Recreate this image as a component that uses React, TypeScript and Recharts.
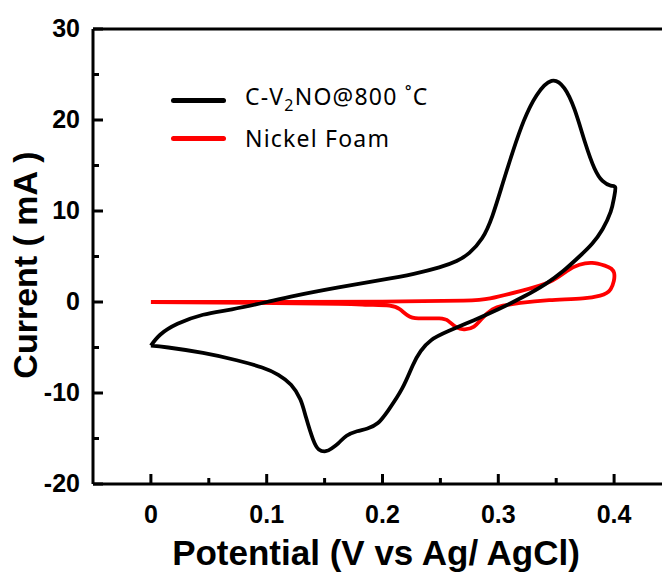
import React from "react";
import { LineChart, Line, XAxis, YAxis, ReferenceLine, Label } from "recharts";

// CV loop of C-V2NO@800 °C, potential (V) / current (mA), in scan order
const blackPotential = [
  0, 0.008, 0.023, 0.045, 0.07, 0.1, 0.125, 0.162, 0.198, 0.227, 0.249, 0.264,
  0.275, 0.286, 0.295, 0.304, 0.313, 0.322, 0.333, 0.346, 0.357, 0.366, 0.375,
  0.383, 0.39, 0.397, 0.401, 0.4, 0.397, 0.39, 0.381, 0.37, 0.356, 0.341, 0.322,
  0.3, 0.279, 0.257, 0.242, 0.233, 0.226, 0.217, 0.205, 0.196, 0.187, 0.178,
  0.169, 0.162, 0.156, 0.151, 0.145, 0.14, 0.134, 0.129, 0.121, 0.11, 0.096,
  0.074, 0.045, 0.015, 0,
];
const blackCurrent = [
  -4.8, -3.6, -2.4, -1.4, -0.8, 0, 0.7, 1.6, 2.4, 3.1, 3.8, 4.5, 5.4, 7.0, 9.5,
  13.1, 16.7, 19.9, 22.7, 24.3, 23.5, 21.1, 17.5, 14.7, 13.3, 12.8, 12.6, 11.5,
  9.9, 8.0, 6.4, 5.0, 3.4, 2.0, 0.6, -0.8, -2.0, -3.2, -4.2, -5.4, -7.0, -9.5,
  -11.9, -13.3, -13.9, -14.2, -14.7, -15.5, -16.1, -16.4, -16.2, -15.1, -12.7,
  -10.7, -9.1, -8.0, -7.2, -6.4, -5.6, -5.0, -4.8,
];

// CV loop of bare nickel foam
const redPotential = [
  0, 0.1, 0.2, 0.27, 0.293, 0.319, 0.344, 0.359, 0.37, 0.381, 0.392, 0.4, 0.397,
  0.388, 0.373, 0.344, 0.319, 0.304, 0.295, 0.286, 0.279, 0.271, 0.264, 0.257,
  0.249, 0.231, 0.222, 0.215, 0.206, 0.187, 0.162, 0.088, 0,
];
const redCurrent = [
  0, 0, 0.05, 0.15, 0.4, 1.2, 2.2, 3.4, 4.1, 4.3, 4.0, 3.2, 1.4, 0.7, 0.4, 0.2,
  -0.1, -0.4, -0.8, -1.8, -2.7, -3.0, -2.8, -2.1, -1.8, -1.8, -1.5, -0.8, -0.4,
  -0.3, -0.2, -0.1, 0,
];

const seriesNames = ["C-V₂NO@800 ˚C", "Nickel Foam"];
const seriesColors = ["#000000", "#ff0000"];

const xTicks = [0, 0.05, 0.1, 0.15, 0.2, 0.25, 0.3, 0.35, 0.4, 0.45];
const yTicks = [-20, -15, -10, -5, 0, 5, 10, 15, 20, 25, 30];

const toPoints = (xs: number[], ys: number[]) =>
  xs.map((x, i) => ({ x, y: ys[i] }));

const blackData = toPoints(blackPotential, blackCurrent);
const redData = toPoints(redPotential, redCurrent);

const tickFont = {
  fontFamily: "'Liberation Sans', Arial, sans-serif",
  fontWeight: 700,
  fontSize: 25,
  fill: "#000",
};

function XTick(props: any) {
  const { x, y, payload } = props;
  const v = payload.value as number;
  const major = Math.abs(v * 10 - Math.round(v * 10)) < 1e-6;
  return (
    <g>
      <line x1={x} x2={x} y1={y} y2={y - (major ? 10 : 6)} stroke="#000" strokeWidth={3} />
      {major && (
        <text x={x} y={y + 39} textAnchor="middle" {...tickFont}>
          {String(Math.round(v * 10) / 10)}
        </text>
      )}
    </g>
  );
}

function YTick(props: any) {
  const { x, y, payload } = props;
  const v = payload.value as number;
  const major = v % 10 === 0;
  return (
    <g>
      <line x1={x} x2={x + (major ? 10 : 6)} y1={y} y2={y} stroke="#000" strokeWidth={3} />
      {major && (
        <text x={x - 13} y={y + 8} textAnchor="end" {...tickFont}>
          {String(v)}
        </text>
      )}
    </g>
  );
}

function LegendName({ name }: { name: string }) {
  const parts = name.split("₂");
  if (parts.length < 2) return <>{name}</>;
  return (
    <>
      {parts[0]}
      <sub style={{ fontSize: 16, verticalAlign: -6 }}>2</sub>
      {parts[1]}
    </>
  );
}

export default function App() {
  return (
    <div
      style={{
        position: "absolute",
        left: 0,
        top: 0,
        width: 662,
        height: 574,
        overflow: "hidden",
        background: "#fff",
      }}
    >
      <LineChart
        width={680}
        height={574}
        margin={{ top: 29, right: 8, bottom: 0, left: 0 }}
      >
        <XAxis
          type="number"
          dataKey="x"
          domain={[-0.05, 0.45]}
          ticks={xTicks}
          allowDataOverflow
          height={90}
          tickSize={0}
          tickMargin={0}
          tick={<XTick />}
          axisLine={{ stroke: "#000", strokeWidth: 3 }}
        >
          <Label
            content={() => (
              <text
                x={376}
                y={565}
                textAnchor="middle"
                fontFamily="'Liberation Sans', Arial, sans-serif"
                fontWeight={700}
                fontSize={35}
                fill="#000"
              >
                Potential (V vs Ag/ AgCl)
              </text>
            )}
          />
        </XAxis>
        <YAxis
          type="number"
          domain={[-20, 30]}
          ticks={yTicks}
          allowDataOverflow
          width={93}
          tickSize={0}
          tickMargin={0}
          tick={<YTick />}
          axisLine={{ stroke: "#000", strokeWidth: 3 }}
        >
          <Label
            content={() => (
              <text
                transform="translate(37,265) rotate(-90)"
                textAnchor="middle"
                fontFamily="'Liberation Sans', Arial, sans-serif"
                fontWeight={700}
                fontSize={34}
                fill="#000"
              >
                Current ( mA )
              </text>
            )}
          />
        </YAxis>
        <ReferenceLine y={30} stroke="#000" strokeWidth={3} />
        <ReferenceLine x={0.45} stroke="#000" strokeWidth={3} />
        <Line
          data={redData}
          dataKey="y"
          name={seriesNames[1]}
          type="natural"
          stroke={seriesColors[1]}
          strokeWidth={3.8}
          dot={false}
          isAnimationActive={false}
        />
        <Line
          data={blackData}
          dataKey="y"
          name={seriesNames[0]}
          type="natural"
          stroke={seriesColors[0]}
          strokeWidth={3.8}
          dot={false}
          isAnimationActive={false}
        />
      </LineChart>
      <div
        style={{
          position: "absolute",
          left: 171,
          top: 81,
          fontFamily: "'Noto Sans', sans-serif",
          fontSize: 23,
          letterSpacing: 1.2,
          color: "#000",
        }}
      >
        {seriesNames.map((n, i) => (
          <div
            key={n}
            style={{ display: "flex", alignItems: "center", height: 38, whiteSpace: "nowrap" }}
          >
            <span
              style={{
                display: "inline-block",
                width: 55,
                height: 5,
                borderRadius: 3,
                background: seriesColors[i],
              }}
            />
            <span style={{ marginLeft: 19, lineHeight: "38px" }}>
              <LegendName name={n} />
            </span>
          </div>
        ))}
      </div>
    </div>
  );
}
